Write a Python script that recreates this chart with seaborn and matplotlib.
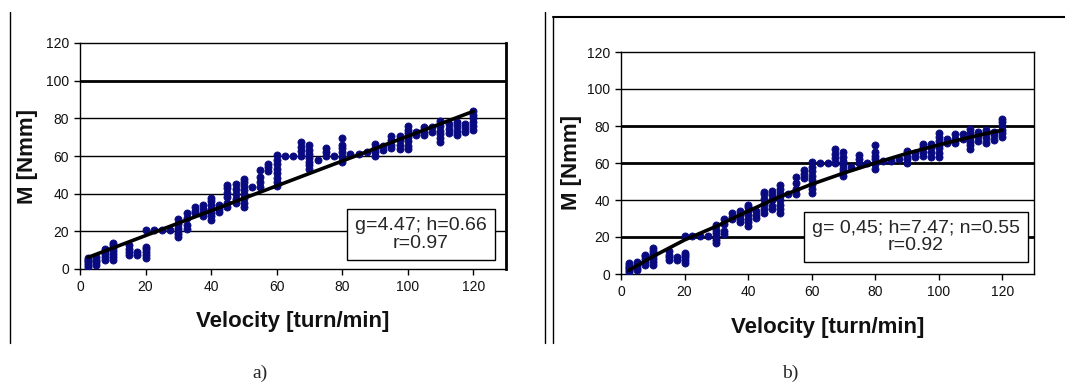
import numpy as np
import pandas as pd
import matplotlib
matplotlib.use('Agg')
import matplotlib.pyplot as plt
import seaborn as sns

VELOCITY = [2.5, 5, 7.5, 10, 15, 17.5, 20, 22.5, 25, 27.5, 30, 32.5, 35, 37.5,
            40, 42.5, 45, 47.5, 50, 52.5, 55, 57.5, 60, 62.5, 65, 67.5, 70,
            72.5, 75, 77.5, 80, 82.5, 85, 87.5, 90, 92.5, 95, 97.5, 100, 102.5,
            105, 107.5, 110, 112.5, 115, 117.5, 120]
TORQUE = [
    [1, 2, 3, 4, 5, 6],
    [2, 3.5, 5, 6.5],
    [5, 6.5, 8, 9.5, 10.5],
    [5, 6.5, 8, 9.5, 11, 12.5, 14],
    [7.5, 9, 10.5, 12.5],
    [7.5, 9],
    [6, 7.5, 9, 10.5, 11.5, 20.5],
    [20.5],
    [20.5],
    [20.5],
    [17, 18.5, 20, 22, 24, 26.5],
    [21.5, 23.5, 27, 29.5],
    [29.5, 31, 33],
    [28, 30, 32, 34],
    [26, 28, 30, 32, 34, 36, 37.5],
    [30.5, 32, 34],
    [33, 35, 38, 40.5, 43, 44.5],
    [35, 37, 40, 42.5, 45],
    [33, 35, 37.5, 40, 42, 44, 46, 48],
    [43.5],
    [43.5, 46, 49, 52.5],
    [52, 54, 56],
    [44, 46, 48.5, 51, 53, 55.5, 58, 60.5],
    [60],
    [60],
    [60, 62.5, 65, 67.5],
    [53, 55, 57, 59, 61, 63, 66],
    [58],
    [60, 62, 64.5],
    [60],
    [57, 59.5, 62, 64, 66, 69.5],
    [61],
    [61],
    [62],
    [60, 62, 64, 66.5],
    [63, 65.5],
    [64, 66, 68.5, 70.5],
    [63.5, 66, 68.5, 70.5],
    [63.5, 65.5, 68, 70, 72, 74, 76],
    [71, 73],
    [71, 73, 75.5],
    [73, 75.5],
    [67.5, 69.5, 71.5, 73.5, 76, 78.5],
    [72, 74.5, 77],
    [71, 73.5, 76, 78],
    [72.5, 75, 77],
    [74, 76, 78, 80, 82, 84],
]

# fitted curves
FIT_A_V = [2.5, 120]
FIT_A_M = [6.2, 83.7]
FIT_B_V = [2.5, 10, 20, 30, 40, 50, 60, 70, 80, 90, 100, 110, 120]
FIT_B_M = [2, 9.4, 18.4, 25.8, 34, 41.8, 48.5, 54.5, 60, 65.2, 69.8, 74, 77.8]

LABEL_A = 'g=4.47; h=0.66\nr=0.97'
LABEL_B = 'g= 0,45; h=7.47; n=0.55\nr=0.92'

df = pd.DataFrame([(v, m) for v, ms in zip(VELOCITY, TORQUE) for m in ms],
                  columns=['v', 'm'])

sns.set_style('white')
plt.rcParams['font.family'] = ['Liberation Sans', 'DejaVu Sans']

W, H = 1065, 383
fig = plt.figure(figsize=(W / 100, H / 100), dpi=100)
NAVY = '#0a0a80'


def panel(rect, fit_v, fit_m, grid_lw, right_lw):
    l, t, r, b = rect
    ax = fig.add_axes([l / W, (H - b) / H, (r - l) / W, (b - t) / H])
    sns.scatterplot(data=df, x='v', y='m', ax=ax, color=NAVY, s=26,
                    edgecolor=NAVY, linewidth=0.6, zorder=3, legend=False)
    sns.lineplot(x=fit_v, y=fit_m, ax=ax, color='black', lw=2.6, zorder=4)
    for yv, lw in zip([20, 40, 60, 80, 100], grid_lw):
        ax.axhline(yv, color='black', lw=lw, zorder=1)
    ax.set_xlim(0, 130)
    ax.set_ylim(0, 120)
    ax.set_xticks(range(0, 121, 20))
    ax.set_yticks(range(0, 121, 20))
    ax.tick_params(axis='both', direction='out', length=4, width=1,
                   labelsize=10, labelcolor='#111111', color='black', pad=4,
                   bottom=True, left=True)
    for side in ['top', 'left', 'bottom']:
        ax.spines[side].set_color('black')
        ax.spines[side].set_linewidth(1)
    ax.spines['right'].set_color('black')
    ax.spines['right'].set_linewidth(right_lw)
    ax.set_xlabel('Velocity [turn/min]', fontsize=16, fontweight='bold',
                  color='#111111')
    ax.set_ylabel('M [Nmm]', fontsize=16, fontweight='bold', color='#111111')
    ax.xaxis.label.set_va('center')
    ax.yaxis.label.set_va('center')
    return ax


ax1 = panel((80, 43, 506, 269), FIT_A_V, FIT_A_M, [1, 1, 1, 1, 2], 2)
ax1.xaxis.set_label_coords(0.5, -(322 - 269) / 226)
ax1.yaxis.set_label_coords((28 - 80) / 426, 0.5)
ax1.text((421 - 80) / 426, (269 - 234.5) / 226, LABEL_A, transform=ax1.transAxes,
         ha='center', va='center', fontsize=14, linespacing=1.05, zorder=5,
         bbox=dict(boxstyle='square,pad=0.4', fc='white', ec='black', lw=1))

ax2 = panel((621, 52, 1034, 274), FIT_B_V, FIT_B_M, [2, 1, 2, 2, 1], 1)
ax2.xaxis.set_label_coords(0.5, -(328 - 274) / 222)
ax2.yaxis.set_label_coords((572 - 621) / 413, 0.5)
ax2.text((916 - 621) / 413, (274 - 237) / 222, LABEL_B, transform=ax2.transAxes,
         ha='center', va='center', fontsize=14, linespacing=1.05, zorder=5,
         bbox=dict(boxstyle='square,pad=0.4', fc='white', ec='black', lw=1))

# page frame lines
fig.add_artist(plt.Line2D([10 / W, 10 / W], [1 - 12 / H, 1 - 343 / H], color='black', lw=1))
fig.add_artist(plt.Line2D([545 / W, 545 / W], [1 - 12 / H, 1 - 343 / H], color='black', lw=1))
fig.add_artist(plt.Line2D([553 / W, 553 / W], [1 - 17 / H, 1 - 343 / H], color='black', lw=1))
fig.add_artist(plt.Line2D([553 / W, 1], [1 - 17 / H, 1 - 17 / H], color='black', lw=1.5))

fig.text(260 / W, 1 - 373 / H, 'a)', ha='center', va='center', fontsize=14,
         family=['Liberation Serif', 'DejaVu Serif'])
fig.text(790 / W, 1 - 373 / H, 'b)', ha='center', va='center', fontsize=14,
         family=['Liberation Serif', 'DejaVu Serif'])

fig.savefig('out.png', dpi=100)
